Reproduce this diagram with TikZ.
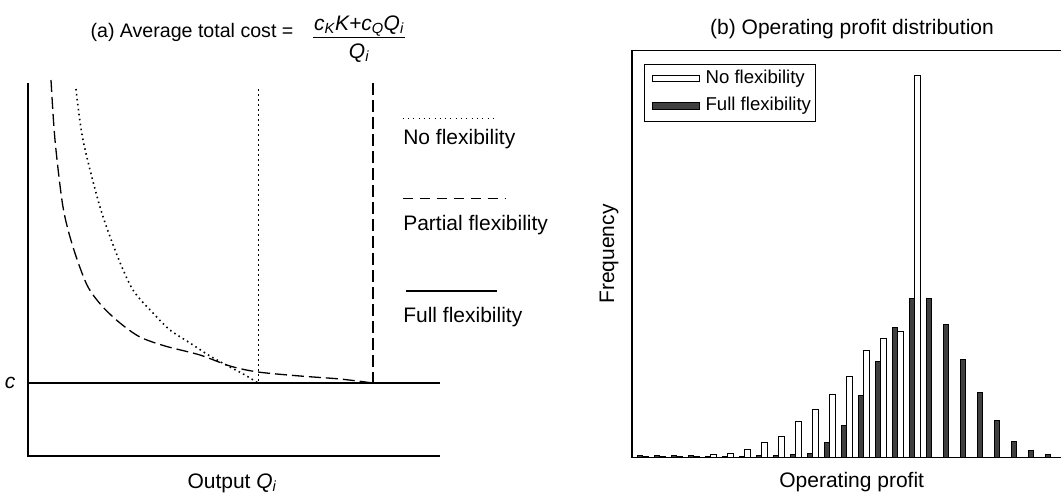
\documentclass[tikz,border=0pt]{standalone}
\usepackage{fontspec}
\setmainfont{Liberation Sans}
\begin{document}
\begin{tikzpicture}[x=1pt,y=-1pt,line width=1.2pt,
	lbl/.style={inner sep=0pt,font=\fontsize{21}{25}\selectfont},
	keylbl/.style={inner sep=0pt,font=\fontsize{18.6}{22}\selectfont},
	nobar/.style={draw=black,line width=0.8pt,fill=white},
	fullbar/.style={draw=black,line width=0.8pt,fill=black!75},
	dashcurve/.style={line width=1.3pt,dash pattern=on 12pt off 5pt},
	dotcurve/.style={line width=1.6pt,dash pattern=on 1.5pt off 3.5pt}]
	\useasboundingbox (0,0) rectangle (1061,493);
	\node[lbl,font=\fontsize{19.6}{23}\selectfont,anchor=base east] (ttla) at (294,37.5) {(a) Average total cost =};
	\node[lbl,anchor=base] (numa) at (359,30) {\itshape c\textsubscript{K}K+c\textsubscript{Q}Q\textsubscript{i}};
	\node[lbl,anchor=base] (dena) at (359,58) {\itshape Q\textsubscript{i}};
	\draw[line width=0.9pt] (313,37.3) -- (405,37.3);
	\draw (28,83) -- (28,456) -- (440,456);
	\draw (28,383) -- (440,383);
	\node[lbl,anchor=east] (cst) at (16,383) {\itshape c};
	\node[lbl,anchor=base] (outq) at (232,488) {Output \textit{Q}\textsubscript{\itshape i}};
	\draw[dotcurve] (258.3,89) -- (258.3,383);
	\draw[dashcurve] (373,83) -- (373,383);
	\draw[dashcurve] plot[smooth] coordinates {(51,80) (55,140) (63,207) (73,247) (87,285) (102,306) (120,323) (140,337) (165,346) (200,355) (230,366) (258,372) (300,376) (340,379) (373,383)};
	\draw[dotcurve] plot[smooth] coordinates {(76,89) (83,140) (100,207) (117,255) (133,290) (153,313) (170,330) (190,343) (210,356) (230,367) (245,375) (258,383)};
	\draw[line width=1.4pt,dash pattern=on 1pt off 4.3pt] (402.7,118.3) -- (493.3,118.3);
	\node[lbl,anchor=west] (keyno) at (402.7,139.3) {No flexibility};
	\draw[dash pattern=on 10pt off 7pt] (402.7,198.3) -- (505,198.3);
	\node[lbl,anchor=west] (keypart) at (402.7,225) {Partial flexibility};
	\draw (406,291) -- (496.7,291);
	\node[lbl,anchor=west] (keyfull) at (402.7,317) {Full flexibility};
	\node[lbl,anchor=base] (ttlb) at (852,34) {(b) Operating profit distribution};
	\draw (1061,50.7) -- (632,50.7) -- (632,457.7) -- (1061,457.7);
	\node[lbl,rotate=90] (freq) at (609,254) {Frequency};
	\node[lbl] (opx) at (851.7,481.7) {Operating profit};
	\foreach \k/\hf/\hn in {0/2/1,1/2/1,2/2/1,3/2/1,4/1/3.4,5/1.5/4.4,6/1.5/8.7,7/2/15,8/2/21.4,9/3.4/36.4,10/4.7/48.4,11/15.4/63.7,12/32/81.7,13/62.4/107.7,14/96/119.7,15/130.4/126,16/159.4/382.7,17/159.4/0,18/133.7/0,19/98.7/0,20/65.4/0,21/37.7/0,22/16.7/0,23/7.7/0,24/3.4/0}{
		\draw[fullbar] (637.3+17*\k,457.7) rectangle ++(5.5,-\hf);
		\draw[nobar] (642.8+17*\k,457.7) rectangle ++(5.5,-\hn);
	}
	\draw[line width=0.8pt] (644.3,64.3) rectangle (815.7,121);
	\draw[nobar] (652.3,75) rectangle (699,81.7);
	\node[keylbl,anchor=west] (legno) at (705,78.7) {No flexibility};
	\draw[fullbar] (652.3,102.3) rectangle (699,109);
	\node[keylbl,anchor=west] (legfull) at (705,106) {Full flexibility};
\end{tikzpicture}
\end{document}
